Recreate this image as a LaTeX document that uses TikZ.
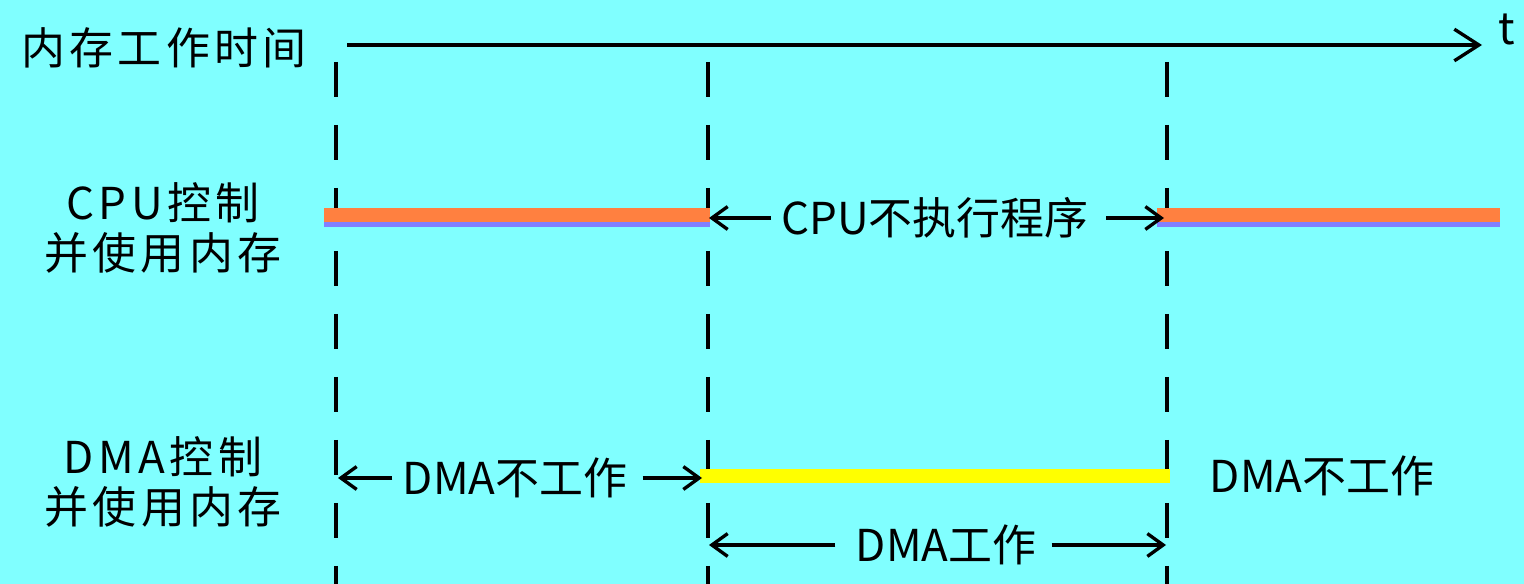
\documentclass[tikz,border=0pt]{standalone}
\usepackage{fontspec}
\setmainfont{Noto Sans CJK SC}
\usetikzlibrary{arrows.meta}
\definecolor{bgcyan}{RGB}{128,255,255}
\definecolor{cpuorange}{RGB}{255,128,64}
\definecolor{cpublue}{RGB}{128,128,255}
\definecolor{dmayellow}{RGB}{255,255,0}
\tikzset{
  lbl/.style = {inner sep = 0, font = \fontsize{25}{28.5}\selectfont, align = center},
  wide/.style = {font = \fontsize{25}{28.5}\selectfont\addfontfeature{LetterSpace = 10}},
  guide/.style = {black, line width = 1.9pt, dash pattern = on 0.7cm off 0.56cm},
  span/.style = {black, line width = 1.9pt, -{Straight Barb[length = 9pt, width = 13pt]}},
}
\begin{document}
\begin{tikzpicture}[x = 0.02cm, y = -0.02cm]
\fill[bgcyan] (0,0) rectangle (1524,584);
\useasboundingbox (0,0) rectangle (1524,584);
% time axis
\node[lbl, wide] (title) at (164,48) {内存工作时间};
\coordinate (axisL) at (347,45);
\coordinate (axisR) at (1482,45);
\draw[span, -{Straight Barb[length = 14pt, width = 18pt]}] (axisL) -- (axisR);
\node[lbl, anchor = west] (tlab) at (1498,30) {t};
% phase borders
\foreach \x/\n in {336/a, 708/b, 1167/c} {
  \coordinate (\n top) at (\x,62);
  \coordinate (\n bot) at (\x,584);
  \draw[guide] (\n top) -- (\n bot);
}
% CPU row
\node[lbl, wide] (cpulab) at (163,228) {CPU控制\\并使用内存};
\coordinate (cpu1L) at (324,215);
\coordinate (cpu1R) at (710,215);
\coordinate (cpu2L) at (1157,215);
\coordinate (cpu2R) at (1500,215);
\draw[cpublue, line width = 10pt] ([yshift = -0.07cm] cpu1L) -- ([yshift = -0.07cm] cpu1R);
\draw[cpuorange, line width = 8pt] (cpu1L) -- (cpu1R);
\draw[cpublue, line width = 10pt] ([yshift = -0.07cm] cpu2L) -- ([yshift = -0.07cm] cpu2R);
\draw[cpuorange, line width = 8pt] (cpu2L) -- (cpu2R);
\node[lbl] (cpuoff) at (935,218) {CPU不执行程序};
\coordinate (cpuoffL) at (709,218);
\coordinate (cpuoffR) at (1164,218);
\draw[span] (cpuoff.west) ++(-0.2cm,0) -- (cpuoffL);
\draw[span] (cpuoff.east) ++(0.35cm,0) -- (cpuoffR);
% DMA row
\node[lbl, wide] (dmalab) at (163,482) {DMA控制\\并使用内存};
\coordinate (dmaL) at (700,476);
\coordinate (dmaR) at (1170,476);
\draw[dmayellow, line width = 8.5pt] (dmaL) -- (dmaR);
\node[lbl] (dmaoff1) at (515,478) {DMA不工作};
\coordinate (off1L) at (338,478);
\coordinate (off1R) at (702,478);
\draw[span] (dmaoff1.west) ++(-0.2cm,0) -- (off1L);
\draw[span] (dmaoff1.east) ++(0.3cm,0) -- (off1R);
\node[lbl] (dmaoff2) at (1322,476) {DMA不工作};
\node[lbl] (dmaon) at (946,545) {DMA工作};
\coordinate (onL) at (709,545);
\coordinate (onR) at (1166,545);
\draw[span] (dmaon.west) ++(-0.4cm,0) -- (onL);
\draw[span] (dmaon.east) ++(0.3cm,0) -- (onR);
\end{tikzpicture}
\end{document}
